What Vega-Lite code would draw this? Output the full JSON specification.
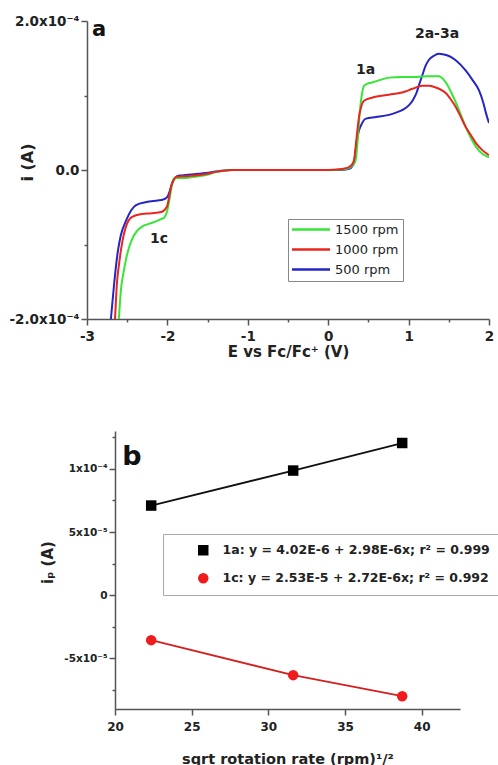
{
  "$schema": "https://vega.github.io/schema/vega-lite/v6.json",
  "background": "white",
  "padding": {"left": 1, "top": 14, "right": 0, "bottom": 0},
  "config": {
    "view": {"stroke": null},
    "font": "DejaVu Sans",
    "axis": {"grid": false, "domainColor": "#555", "domainWidth": 1.5, "tickColor": "#555", "tickWidth": 1.5, "labelFont": "DejaVu Sans", "labelFontWeight": "bold", "labelColor": "#222", "titleFont": "DejaVu Sans", "titleFontWeight": "bold", "titleColor": "#222", "labelFlush": false, "labelOverlap": false},
    "legend": {"labelFont": "DejaVu Sans", "labelColor": "#222"}
  },
  "datasets": {
    "cv": [
      {"rpm": "500 rpm", "E": -2.73, "i": -2.3e-4},
      {"rpm": "500 rpm", "E": -2.70, "i": -1.97e-4},
      {"rpm": "500 rpm", "E": -2.66, "i": -1.50e-4},
      {"rpm": "500 rpm", "E": -2.62, "i": -1.12e-4},
      {"rpm": "500 rpm", "E": -2.58, "i": -8.8e-5},
      {"rpm": "500 rpm", "E": -2.51, "i": -6.7e-5},
      {"rpm": "500 rpm", "E": -2.45, "i": -5.4e-5},
      {"rpm": "500 rpm", "E": -2.39, "i": -4.7e-5},
      {"rpm": "500 rpm", "E": -2.26, "i": -4.3e-5},
      {"rpm": "500 rpm", "E": -2.12, "i": -4.1e-5},
      {"rpm": "500 rpm", "E": -2.06, "i": -4.0e-5},
      {"rpm": "500 rpm", "E": -2.0, "i": -3.6e-5},
      {"rpm": "500 rpm", "E": -1.97, "i": -2.8e-5},
      {"rpm": "500 rpm", "E": -1.94, "i": -1.7e-5},
      {"rpm": "500 rpm", "E": -1.90, "i": -1.0e-5},
      {"rpm": "500 rpm", "E": -1.85, "i": -7.5e-6},
      {"rpm": "500 rpm", "E": -1.77, "i": -6.7e-6},
      {"rpm": "500 rpm", "E": -1.52, "i": -4.0e-6},
      {"rpm": "500 rpm", "E": -1.40, "i": -2.0e-6},
      {"rpm": "500 rpm", "E": -1.30, "i": -5e-7},
      {"rpm": "500 rpm", "E": -1.20, "i": 0},
      {"rpm": "500 rpm", "E": 0.0, "i": 0},
      {"rpm": "500 rpm", "E": 0.20, "i": 5e-7},
      {"rpm": "500 rpm", "E": 0.26, "i": 1.5e-6},
      {"rpm": "500 rpm", "E": 0.30, "i": 5e-6},
      {"rpm": "500 rpm", "E": 0.321, "i": 9.3e-6},
      {"rpm": "500 rpm", "E": 0.34, "i": 2.5e-5},
      {"rpm": "500 rpm", "E": 0.358, "i": 4.0e-5},
      {"rpm": "500 rpm", "E": 0.38, "i": 5.2e-5},
      {"rpm": "500 rpm", "E": 0.408, "i": 6.0e-5},
      {"rpm": "500 rpm", "E": 0.47, "i": 6.9e-5},
      {"rpm": "500 rpm", "E": 0.594, "i": 7.1e-5},
      {"rpm": "500 rpm", "E": 0.756, "i": 7.4e-5},
      {"rpm": "500 rpm", "E": 0.843, "i": 7.7e-5},
      {"rpm": "500 rpm", "E": 0.93, "i": 8.1e-5},
      {"rpm": "500 rpm", "E": 1.005, "i": 8.7e-5},
      {"rpm": "500 rpm", "E": 1.06, "i": 9.5e-5},
      {"rpm": "500 rpm", "E": 1.10, "i": 1.04e-4},
      {"rpm": "500 rpm", "E": 1.129, "i": 1.14e-4},
      {"rpm": "500 rpm", "E": 1.167, "i": 1.26e-4},
      {"rpm": "500 rpm", "E": 1.216, "i": 1.41e-4},
      {"rpm": "500 rpm", "E": 1.254, "i": 1.48e-4},
      {"rpm": "500 rpm", "E": 1.31, "i": 1.53e-4},
      {"rpm": "500 rpm", "E": 1.378, "i": 1.56e-4},
      {"rpm": "500 rpm", "E": 1.44, "i": 1.55e-4},
      {"rpm": "500 rpm", "E": 1.502, "i": 1.53e-4},
      {"rpm": "500 rpm", "E": 1.59, "i": 1.47e-4},
      {"rpm": "500 rpm", "E": 1.714, "i": 1.33e-4},
      {"rpm": "500 rpm", "E": 1.80, "i": 1.20e-4},
      {"rpm": "500 rpm", "E": 1.876, "i": 1.07e-4},
      {"rpm": "500 rpm", "E": 1.93, "i": 9.0e-5},
      {"rpm": "500 rpm", "E": 1.963, "i": 7.6e-5},
      {"rpm": "500 rpm", "E": 2.0, "i": 6.3e-5},

      {"rpm": "1500 rpm", "E": -2.62, "i": -2.3e-4},
      {"rpm": "1500 rpm", "E": -2.602, "i": -1.97e-4},
      {"rpm": "1500 rpm", "E": -2.577, "i": -1.60e-4},
      {"rpm": "1500 rpm", "E": -2.545, "i": -1.37e-4},
      {"rpm": "1500 rpm", "E": -2.515, "i": -1.20e-4},
      {"rpm": "1500 rpm", "E": -2.48, "i": -1.05e-4},
      {"rpm": "1500 rpm", "E": -2.44, "i": -9.3e-5},
      {"rpm": "1500 rpm", "E": -2.38, "i": -8.2e-5},
      {"rpm": "1500 rpm", "E": -2.316, "i": -7.6e-5},
      {"rpm": "1500 rpm", "E": -2.22, "i": -7.2e-5},
      {"rpm": "1500 rpm", "E": -2.142, "i": -6.9e-5},
      {"rpm": "1500 rpm", "E": -2.08, "i": -6.6e-5},
      {"rpm": "1500 rpm", "E": -2.042, "i": -6.4e-5},
      {"rpm": "1500 rpm", "E": -2.005, "i": -5.6e-5},
      {"rpm": "1500 rpm", "E": -1.98, "i": -4.3e-5},
      {"rpm": "1500 rpm", "E": -1.955, "i": -2.7e-5},
      {"rpm": "1500 rpm", "E": -1.935, "i": -1.6e-5},
      {"rpm": "1500 rpm", "E": -1.918, "i": -1.1e-5},
      {"rpm": "1500 rpm", "E": -1.77, "i": -1.07e-5},
      {"rpm": "1500 rpm", "E": -1.62, "i": -8.5e-6},
      {"rpm": "1500 rpm", "E": -1.52, "i": -6.7e-6},
      {"rpm": "1500 rpm", "E": -1.396, "i": -2.7e-6},
      {"rpm": "1500 rpm", "E": -1.30, "i": -1e-6},
      {"rpm": "1500 rpm", "E": -1.20, "i": 0},
      {"rpm": "1500 rpm", "E": 0.0, "i": 0},
      {"rpm": "1500 rpm", "E": 0.20, "i": 1e-6},
      {"rpm": "1500 rpm", "E": 0.26, "i": 3e-6},
      {"rpm": "1500 rpm", "E": 0.30, "i": 6e-6},
      {"rpm": "1500 rpm", "E": 0.33, "i": 1.0e-5},
      {"rpm": "1500 rpm", "E": 0.346, "i": 1.6e-5},
      {"rpm": "1500 rpm", "E": 0.37, "i": 4.5e-5},
      {"rpm": "1500 rpm", "E": 0.39, "i": 7.5e-5},
      {"rpm": "1500 rpm", "E": 0.408, "i": 9.3e-5},
      {"rpm": "1500 rpm", "E": 0.445, "i": 1.13e-4},
      {"rpm": "1500 rpm", "E": 0.49, "i": 1.16e-4},
      {"rpm": "1500 rpm", "E": 0.532, "i": 1.17e-4},
      {"rpm": "1500 rpm", "E": 0.65, "i": 1.21e-4},
      {"rpm": "1500 rpm", "E": 0.756, "i": 1.24e-4},
      {"rpm": "1500 rpm", "E": 0.92, "i": 1.25e-4},
      {"rpm": "1500 rpm", "E": 1.092, "i": 1.25e-4},
      {"rpm": "1500 rpm", "E": 1.25, "i": 1.26e-4},
      {"rpm": "1500 rpm", "E": 1.378, "i": 1.26e-4},
      {"rpm": "1500 rpm", "E": 1.43, "i": 1.22e-4},
      {"rpm": "1500 rpm", "E": 1.478, "i": 1.15e-4},
      {"rpm": "1500 rpm", "E": 1.53, "i": 1.04e-4},
      {"rpm": "1500 rpm", "E": 1.59, "i": 9.0e-5},
      {"rpm": "1500 rpm", "E": 1.65, "i": 7.4e-5},
      {"rpm": "1500 rpm", "E": 1.714, "i": 5.7e-5},
      {"rpm": "1500 rpm", "E": 1.78, "i": 4.2e-5},
      {"rpm": "1500 rpm", "E": 1.838, "i": 3.1e-5},
      {"rpm": "1500 rpm", "E": 1.913, "i": 2.2e-5},
      {"rpm": "1500 rpm", "E": 2.0, "i": 1.7e-5},

      {"rpm": "1000 rpm", "E": -2.67, "i": -2.3e-4},
      {"rpm": "1000 rpm", "E": -2.652, "i": -2.0e-4},
      {"rpm": "1000 rpm", "E": -2.627, "i": -1.51e-4},
      {"rpm": "1000 rpm", "E": -2.60, "i": -1.25e-4},
      {"rpm": "1000 rpm", "E": -2.577, "i": -1.07e-4},
      {"rpm": "1000 rpm", "E": -2.545, "i": -8.8e-5},
      {"rpm": "1000 rpm", "E": -2.515, "i": -7.6e-5},
      {"rpm": "1000 rpm", "E": -2.44, "i": -6.3e-5},
      {"rpm": "1000 rpm", "E": -2.316, "i": -5.9e-5},
      {"rpm": "1000 rpm", "E": -2.20, "i": -5.8e-5},
      {"rpm": "1000 rpm", "E": -2.067, "i": -5.6e-5},
      {"rpm": "1000 rpm", "E": -2.005, "i": -4.9e-5},
      {"rpm": "1000 rpm", "E": -1.98, "i": -3.7e-5},
      {"rpm": "1000 rpm", "E": -1.955, "i": -2.3e-5},
      {"rpm": "1000 rpm", "E": -1.92, "i": -1.3e-5},
      {"rpm": "1000 rpm", "E": -1.893, "i": -9.3e-6},
      {"rpm": "1000 rpm", "E": -1.73, "i": -8e-6},
      {"rpm": "1000 rpm", "E": -1.52, "i": -5.3e-6},
      {"rpm": "1000 rpm", "E": -1.40, "i": -2.5e-6},
      {"rpm": "1000 rpm", "E": -1.25, "i": -5e-7},
      {"rpm": "1000 rpm", "E": -1.20, "i": 0},
      {"rpm": "1000 rpm", "E": 0.0, "i": 0},
      {"rpm": "1000 rpm", "E": 0.15, "i": 1e-6},
      {"rpm": "1000 rpm", "E": 0.22, "i": 2.5e-6},
      {"rpm": "1000 rpm", "E": 0.259, "i": 4e-6},
      {"rpm": "1000 rpm", "E": 0.30, "i": 8e-6},
      {"rpm": "1000 rpm", "E": 0.321, "i": 1.3e-5},
      {"rpm": "1000 rpm", "E": 0.35, "i": 4.0e-5},
      {"rpm": "1000 rpm", "E": 0.383, "i": 7.1e-5},
      {"rpm": "1000 rpm", "E": 0.41, "i": 8.5e-5},
      {"rpm": "1000 rpm", "E": 0.445, "i": 9.3e-5},
      {"rpm": "1000 rpm", "E": 0.545, "i": 9.7e-5},
      {"rpm": "1000 rpm", "E": 0.756, "i": 1.01e-4},
      {"rpm": "1000 rpm", "E": 0.918, "i": 1.04e-4},
      {"rpm": "1000 rpm", "E": 1.05, "i": 1.09e-4},
      {"rpm": "1000 rpm", "E": 1.167, "i": 1.13e-4},
      {"rpm": "1000 rpm", "E": 1.254, "i": 1.13e-4},
      {"rpm": "1000 rpm", "E": 1.33, "i": 1.11e-4},
      {"rpm": "1000 rpm", "E": 1.415, "i": 1.07e-4},
      {"rpm": "1000 rpm", "E": 1.465, "i": 1.03e-4},
      {"rpm": "1000 rpm", "E": 1.53, "i": 9.4e-5},
      {"rpm": "1000 rpm", "E": 1.59, "i": 8.4e-5},
      {"rpm": "1000 rpm", "E": 1.65, "i": 7.1e-5},
      {"rpm": "1000 rpm", "E": 1.714, "i": 5.7e-5},
      {"rpm": "1000 rpm", "E": 1.78, "i": 4.6e-5},
      {"rpm": "1000 rpm", "E": 1.838, "i": 3.6e-5},
      {"rpm": "1000 rpm", "E": 1.913, "i": 2.7e-5},
      {"rpm": "1000 rpm", "E": 2.0, "i": 2.0e-5}
    ],
    "annA": [
      {"E": -2.851, "i": 1.88e-4, "t": "a"},
      {"E": 0.464, "i": 1.347e-4, "t": "1a"},
      {"E": 1.353, "i": 1.83e-4, "t": "2a-3a"},
      {"E": -2.104, "i": -9.3e-5, "t": "1c"}
    ],
    "rot": [
      {"series": "1a: y = 4.02E-6 + 2.98E-6x; r² = 0.999", "x": 22.36, "y": 7.1e-5},
      {"series": "1a: y = 4.02E-6 + 2.98E-6x; r² = 0.999", "x": 31.62, "y": 9.87e-5},
      {"series": "1a: y = 4.02E-6 + 2.98E-6x; r² = 0.999", "x": 38.73, "y": 1.205e-4},
      {"series": "1c: y = 2.53E-5 + 2.72E-6x; r² = 0.992", "x": 22.36, "y": -3.55e-5},
      {"series": "1c: y = 2.53E-5 + 2.72E-6x; r² = 0.992", "x": 31.62, "y": -6.32e-5},
      {"series": "1c: y = 2.53E-5 + 2.72E-6x; r² = 0.992", "x": 38.73, "y": -7.99e-5}
    ],
    "annB": [
      {"x": 21.11, "y": 1.095e-4, "t": "b"}
    ]
  },
  "columns": 1,
  "align": "none",
  "spacing": 71,
  "resolve": {"scale": {"color": "independent", "shape": "independent"}},
  "concat": [
    {
      "spacing": 0,
      "hconcat": [
        {"width": 7, "height": 10, "data": {"values": []}, "mark": "point"},
        {
          "width": 402,
          "height": 298,
          "layer": [
            {
              "data": {"name": "cv"},
              "mark": {"type": "line", "strokeWidth": 2, "interpolate": "monotone", "clip": true},
              "encoding": {
                "x": {"field": "E", "type": "quantitative",
                  "scale": {"domain": [-3, 2], "nice": false, "zero": false},
                  "axis": {"title": "E vs Fc/Fc⁺ (V)", "values": [-3, -2.5, -2, -1.5, -1, -0.5, 0, 0.5, 1, 1.5, 2],
                    "labelExpr": "datum.value % 1 === 0 ? '' + datum.value : ''",
                    "tickSize": {"condition": {"test": "datum.value % 1 === 0", "value": 6}, "value": 3},
                    "labelFontSize": 13.5, "labelPadding": 4, "titleFontSize": 15, "titlePadding": 2}},
                "y": {"field": "i", "type": "quantitative",
                  "scale": {"domain": [-0.0002, 0.0002], "nice": false, "zero": false},
                  "axis": {"title": "i (A)", "values": [-0.0002, -0.0001, 0, 0.0001, 0.0002],
                    "labelExpr": "abs(datum.value) < 1e-9 ? '0.0' : datum.value > 1.5e-4 ? '2.0x10⁻⁴' : datum.value < -1.5e-4 ? '-2.0x10⁻⁴' : ''",
                    "tickSize": {"condition": {"test": "abs(abs(datum.value) - 1e-4) < 1e-9", "value": 3}, "value": 6},
                    "labelFontSize": 13.5, "labelPadding": 2,
                    "titleFontSize": 16, "titleX": -60, "titleY": 141, "titleAngle": -90, "titleBaseline": "middle", "titleAlign": "center"}},
                "color": {"field": "rpm", "type": "nominal",
                  "scale": {"domain": ["1500 rpm", "1000 rpm", "500 rpm"], "range": ["#35e635", "#e8261e", "#2424c8"]},
                  "legend": {"title": null, "orient": "none", "legendX": 287, "legendY": 198,
                    "strokeColor": "#888", "fillColor": "white", "padding": 4,
                    "symbolType": "M-1.3,0H6.3", "symbolSize": 100, "symbolStrokeWidth": 2.5,
                    "labelFontSize": 13, "labelOffset": 30, "rowPadding": 6}}
              }
            },
            {
              "data": {"name": "annA"},
              "transform": [{"filter": "datum.t !== 'a'"}],
              "mark": {"type": "text", "fontWeight": "bold", "fontSize": 14, "font": "DejaVu Sans", "color": "#222"},
              "encoding": {
                "x": {"field": "E", "type": "quantitative"},
                "y": {"field": "i", "type": "quantitative"},
                "text": {"field": "t"}
              }
            },
            {
              "data": {"name": "annA"},
              "transform": [{"filter": "datum.t === 'a'"}],
              "mark": {"type": "text", "fontWeight": "bold", "fontSize": 21, "font": "DejaVu Sans", "color": "#111"},
              "encoding": {
                "x": {"field": "E", "type": "quantitative"},
                "y": {"field": "i", "type": "quantitative"},
                "text": {"field": "t"}
              }
            }
          ]
        }
      ]
    },
    {
      "spacing": 0,
      "hconcat": [
        {"width": 39, "height": 10, "data": {"values": []}, "mark": "point"},
        {
          "width": 345,
          "height": 278,
          "resolve": {"axis": {"y": "independent"}},
          "layer": [
            {
              "data": {"name": "rot"},
              "transform": [{"filter": "indexof(datum.series, '1a') === 0"}],
              "mark": {"type": "line", "strokeWidth": 1.8, "color": "#111111"},
              "encoding": {
                "x": {"field": "x", "type": "quantitative",
                  "scale": {"domain": [20, 42.5], "nice": false, "zero": false},
                  "axis": {"title": "sqrt rotation rate (rpm)¹/²", "values": [20, 22.5, 25, 27.5, 30, 32.5, 35, 37.5, 40, 42.5],
                    "labelExpr": "datum.value % 1 === 0 ? '' + datum.value : ''",
                    "tickSize": {"condition": {"test": "datum.value % 1 === 0", "value": 6}, "value": 3},
                    "labelFontSize": 12, "labelPadding": 6, "titleFontSize": 14.5, "titlePadding": 20}},
                "y": {"field": "y", "type": "quantitative",
                  "scale": {"domain": [-0.00009, 0.00013], "nice": false, "zero": false},
                  "axis": {"title": "iₚ (A)", "orient": "left", "values": [-0.00005, 0, 0.00005, 0.0001],
                    "labelExpr": "datum.value > 7.5e-5 ? '1x10⁻⁴' : datum.value > 2.5e-5 ? '5x10⁻⁵' : datum.value > -2.5e-5 ? '0' : '-5x10⁻⁵'",
                    "tickSize": 6,
                    "labelFontSize": 10.5, "labelPadding": 2,
                    "titleFontSize": 15, "titleX": -68, "titleY": 131, "titleAngle": -90, "titleBaseline": "middle", "titleAlign": "center"}}
              }
            },
            {
              "data": {"name": "rot"},
              "transform": [{"filter": "indexof(datum.series, '1c') === 0"}],
              "mark": {"type": "line", "strokeWidth": 1.8, "color": "#d42020"},
              "encoding": {
                "x": {"field": "x", "type": "quantitative"},
                "y": {"field": "y", "type": "quantitative", "axis": null}
              }
            },
            {
              "data": {"name": "rot"},
              "mark": {"type": "point", "filled": true, "opacity": 1, "size": 110},
              "encoding": {
                "x": {"field": "x", "type": "quantitative"},
                "y": {"field": "y", "type": "quantitative", "axis": null},
                "color": {"field": "series", "type": "nominal",
                  "scale": {"domain": ["1a: y = 4.02E-6 + 2.98E-6x; r² = 0.999", "1c: y = 2.53E-5 + 2.72E-6x; r² = 0.992"], "range": ["#000000", "#ee1c1c"]},
                  "legend": {"title": null, "orient": "none", "legendX": 162, "legendY": 103,
                    "strokeColor": "#aaa", "fillColor": "white", "padding": 10,
                    "symbolOffset": 24, "labelOffset": 13, "rowPadding": 15,
                    "labelFontSize": 12.5, "labelFontWeight": "bold", "symbolSize": 110, "labelLimit": 400}},
                "shape": {"field": "series", "type": "nominal",
                  "scale": {"domain": ["1a: y = 4.02E-6 + 2.98E-6x; r² = 0.999", "1c: y = 2.53E-5 + 2.72E-6x; r² = 0.992"], "range": ["square", "circle"]}}
              }
            },
            {
              "data": {"name": "annB"},
              "mark": {"type": "text", "fontWeight": "bold", "fontSize": 27, "font": "DejaVu Sans", "color": "#111"},
              "encoding": {
                "x": {"field": "x", "type": "quantitative"},
                "y": {"field": "y", "type": "quantitative",
                  "axis": {"orient": "left", "title": null, "values": [-0.000075, -0.000025, 0.000025, 0.000075, 0.000125], "labels": false, "domain": false, "tickSize": 3}},
                "text": {"field": "t"}
              }
            }
          ]
        }
      ]
    }
  ]
}
